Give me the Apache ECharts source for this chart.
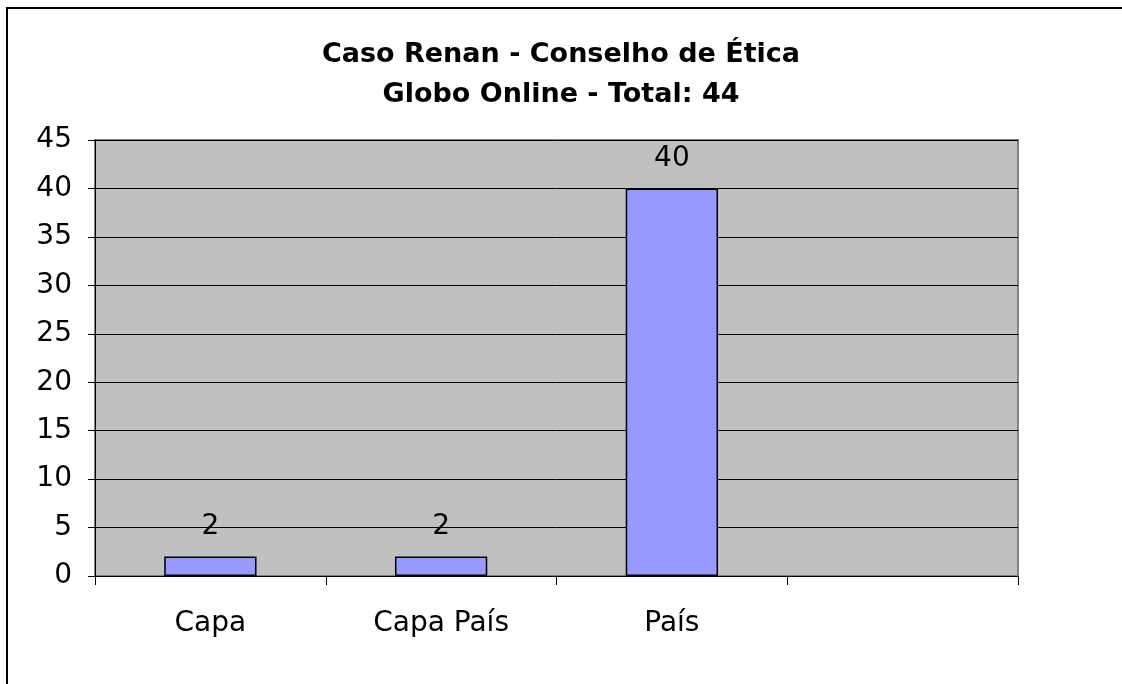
<!DOCTYPE html>
<html>
<head>
<meta charset="utf-8">
<script src="https://cdn.jsdelivr.net/npm/echarts@6/dist/echarts.min.js"></script>
<style>
  html, body { margin: 0; padding: 0; background: #fff; }
  #chart { width: 1122px; height: 684px; }
</style>
</head>
<body>
<div id="chart"></div>
<script>
const categories = ["Capa", "Capa País", "País", ""];
const values = [2, 2, 40, null];
const titleText = "Caso Renan - Conselho de Ética\nGlobo Online - Total: 44";

const chart = echarts.init(document.getElementById("chart"));
const font = "DejaVu Sans, Liberation Sans, Arial, sans-serif";

chart.setOption({
  animation: false,
  backgroundColor: "#fff",
  title: {
    text: titleText,
    left: "center",
    top: 30,
    textStyle: {
      fontFamily: font,
      fontSize: 27,
      fontWeight: "bold",
      color: "#000",
      lineHeight: 40,
    },
  },
  // outer frame, cut off by the picture edges
  graphic: [
    {
      type: "rect",
      shape: { x: 7, y: 8, width: 1300, height: 900 },
      style: { fill: "none", stroke: "#000", lineWidth: 2 },
      silent: true,
      z: -1,
    },
  ],
  grid: {
    left: 95,
    right: 104,
    top: 140,
    bottom: 108,
    show: true,
    backgroundColor: "#C0C0C0",
    borderColor: "#808080",
    borderWidth: 2,
  },
  xAxis: {
    type: "category",
    data: categories,
    boundaryGap: true,
    axisLine: { show: true, lineStyle: { color: "#000", width: 1 } },
    axisTick: { show: true, alignWithLabel: false, interval: 0, length: 9, lineStyle: { color: "#000" } },
    axisLabel: { interval: 0, margin: 34, fontFamily: font, fontSize: 28, color: "#000" },
  },
  yAxis: {
    type: "value",
    min: 0,
    max: 45,
    interval: 5,
    axisLine: { show: true, lineStyle: { color: "#000", width: 1 } },
    axisTick: { show: true, length: 7, lineStyle: { color: "#000" } },
    axisLabel: { margin: 23, fontFamily: font, fontSize: 28, color: "#000" },
    splitLine: { show: true, lineStyle: { color: "#000", width: 1 } },
  },
  series: [
    {
      type: "bar",
      data: values,
      barWidth: "40%",
      itemStyle: { color: "#9999FF", borderColor: "#000", borderWidth: 1.5 },
      label: {
        show: true,
        position: "top",
        distance: 16,
        fontFamily: font,
        fontSize: 28,
        color: "#000",
      },
    },
  ],
});
</script>
</body>
</html>
